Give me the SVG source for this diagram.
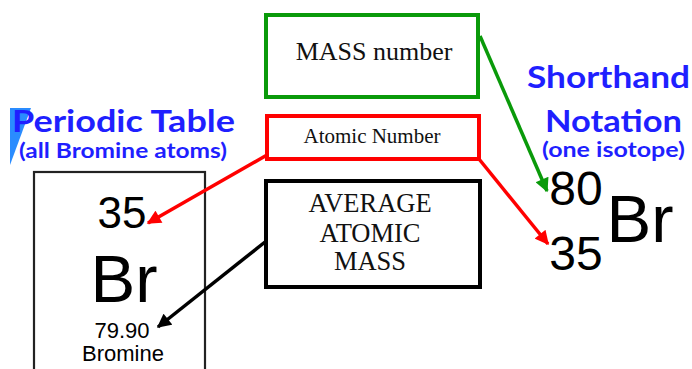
<svg xmlns="http://www.w3.org/2000/svg" width="692" height="369" viewBox="0 0 692 369">
<style>
.serif{font-family:"Liberation Serif","Times New Roman",serif;fill:#111;text-anchor:middle}
.sans{font-family:"Liberation Sans",Arial,sans-serif;fill:#000;text-anchor:middle}
.blue{font-family:"Lato","Open Sans",sans-serif;font-weight:bold;fill:#1f1fff}
.conn{fill:none;stroke-width:3.5}
</style>
<defs>
<marker id="ag" viewBox="0 0 10 10" refX="9" refY="5" markerWidth="4.4" markerHeight="4" orient="auto" markerUnits="strokeWidth"><path d="M0,0 L10,5 L0,10 z" fill="#0a9a0a"/></marker>
<marker id="ar" viewBox="0 0 10 10" refX="9" refY="5" markerWidth="4.4" markerHeight="4" orient="auto" markerUnits="strokeWidth"><path d="M0,0 L10,5 L0,10 z" fill="#ff0000"/></marker>
<marker id="ak" viewBox="0 0 10 10" refX="9" refY="5" markerWidth="4.4" markerHeight="4" orient="auto" markerUnits="strokeWidth"><path d="M0,0 L10,5 L0,10 z" fill="#000"/></marker>
</defs>
<rect width="692" height="369" fill="#fff"/>

<g id="periodic-table-title">
<polygon points="10,108 31,108 10,165" fill="#2a8cff"/>
<text class="blue" x="12" y="132" font-size="31" textLength="223" lengthAdjust="spacingAndGlyphs">Periodic Table</text>
<text class="blue" x="19" y="158" font-size="20" textLength="208" lengthAdjust="spacingAndGlyphs">(all Bromine atoms)</text>
</g>

<g id="periodic-cell">
<rect x="34" y="172" width="171" height="210" fill="none" stroke="#222" stroke-width="2.2"/>
<text class="sans" x="122" y="228" font-size="44">35</text>
<text class="sans" x="124" y="302" font-size="67">Br</text>
<text class="sans" x="122" y="338" font-size="22" fill="#222">79.90</text>
<text class="sans" x="123" y="361" font-size="22" fill="#222">Bromine</text>
</g>

<g id="mass-number">
<rect x="266" y="15" width="212" height="82" fill="#fff" stroke="#0a9a0a" stroke-width="4"/>
<text class="serif" x="374" y="60" font-size="26">MASS number</text>
</g>

<g id="atomic-number">
<rect x="267" y="116" width="212" height="43" fill="#fff" stroke="#ff0000" stroke-width="4"/>
<text class="serif" x="372" y="143" font-size="21">Atomic Number</text>
</g>

<g id="average-atomic-mass">
<rect x="266" y="181" width="214" height="106" fill="#fff" stroke="#000" stroke-width="4"/>
<text class="serif" x="370" y="212" font-size="26.5">AVERAGE</text>
<text class="serif" x="370" y="242" font-size="26.5">ATOMIC</text>
<text class="serif" x="370" y="270" font-size="26.5">MASS</text>
</g>

<g id="shorthand-title">
<text class="blue" x="527" y="88" font-size="30" textLength="163" lengthAdjust="spacingAndGlyphs">Shorthand</text>
<text class="blue" x="545" y="132" font-size="30" textLength="137" lengthAdjust="spacingAndGlyphs">Notation</text>
<text class="blue" x="542" y="157" font-size="20" textLength="143" lengthAdjust="spacingAndGlyphs">(one isotope)</text>
</g>

<g id="shorthand-notation">
<text class="sans" x="576" y="205" font-size="48">80</text>
<text class="sans" x="576" y="270" font-size="48">35</text>
<text class="sans" x="640" y="242" font-size="67">Br</text>
</g>

<g id="connectors">
<line class="conn" x1="480" y1="36" x2="547" y2="191" stroke="#0a9a0a" marker-end="url(#ag)"/>
<line class="conn" x1="479" y1="159" x2="548" y2="244" stroke="#ff0000" marker-end="url(#ar)"/>
<line class="conn" x1="267" y1="155" x2="148" y2="223" stroke="#ff0000" marker-end="url(#ar)"/>
<line class="conn" x1="265" y1="242" x2="158" y2="327" stroke="#000" marker-end="url(#ak)"/>
</g>
</svg>
